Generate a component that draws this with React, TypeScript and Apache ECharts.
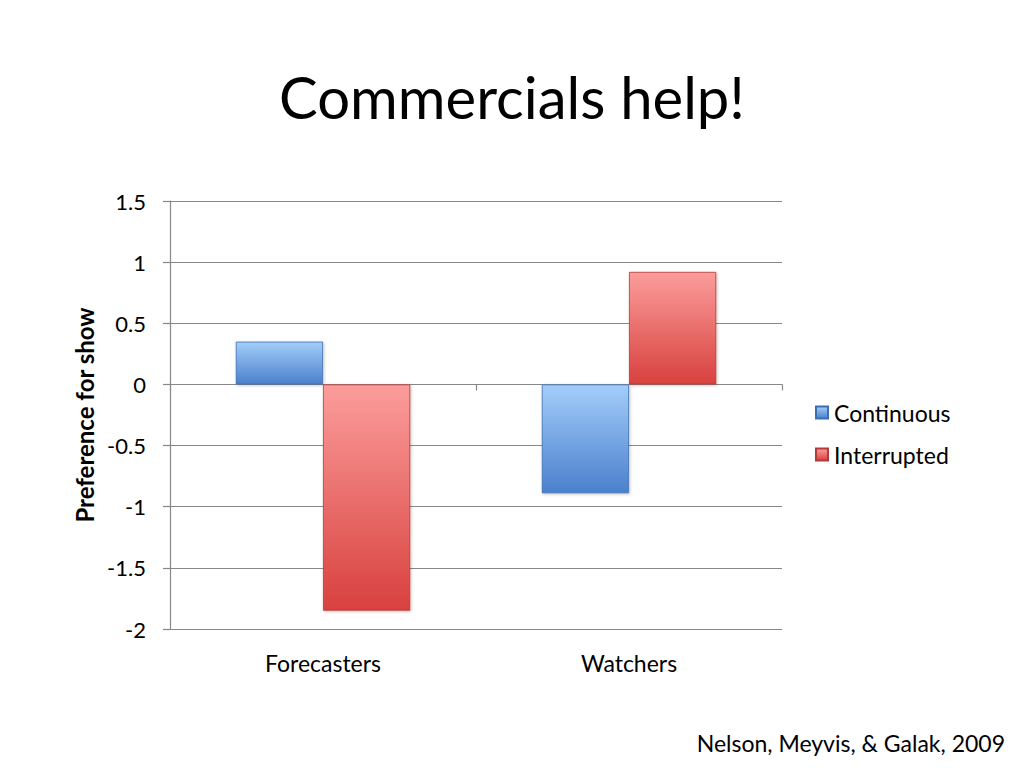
import React, { useEffect, useRef } from "react";
import * as echarts from "echarts";

const categories = ["Forecasters", "Watchers"];
const continuous = [0.35, -0.89];
const interrupted = [-1.85, 0.92];
const seriesNames = ["Continuous", "Interrupted"];
const yMin = -2;
const yMax = 1.5;
const yStep = 0.5;
const titleText = "Commercials help!";
const yAxisName = "Preference for show";
const citation = "Nelson, Meyvis, & Galak, 2009";

const FONT = "Lato, 'Open Sans', sans-serif";

const grad = (top: string, bottom: string) =>
  new echarts.graphic.LinearGradient(0, 0, 0, 1, [
    { offset: 0, color: top },
    { offset: 1, color: bottom },
  ]);

export default function App() {
  const ref = useRef<HTMLDivElement>(null);
  useEffect(() => {
    if (!ref.current) return;
    const chart = echarts.init(ref.current, undefined, { renderer: "svg" });
    chart.setOption({
      animation: false,
      backgroundColor: "#ffffff",
      title: {
        text: titleText,
        left: "center",
        top: 62,
        textStyle: { fontFamily: FONT, fontSize: 58, fontWeight: "normal", color: "#000" },
      },
      legend: {
        orient: "vertical",
        left: 815,
        top: 401,
        padding: 0,
        itemWidth: 12,
        itemHeight: 12,
        itemGap: 19,
        icon: "rect",
        textStyle: { fontFamily: FONT, fontSize: 23, color: "#000", padding: [0, 0, 0, 1] },
        data: seriesNames,
      },
      grid: { left: 170, right: 242, top: 201, bottom: 139, containLabel: false },
      xAxis: [
        {
          type: "category",
          data: categories,
          position: "bottom",
          axisLine: { show: false, onZero: false },
          axisTick: { show: false },
          axisLabel: { fontFamily: FONT, fontSize: 23, color: "#000", margin: 22 },
        },
        {
          type: "category",
          data: categories,
          position: "bottom",
          axisLine: { show: true, onZero: true, lineStyle: { color: "#888", width: 1.2 } },
          axisTick: { show: true, length: 6, lineStyle: { color: "#888", width: 1.2 } },
          axisLabel: { show: false },
          splitLine: { show: false },
        },
      ],
      yAxis: {
        type: "value",
        min: yMin,
        max: yMax,
        interval: yStep,
        name: yAxisName,
        nameLocation: "middle",
        nameGap: 71,
        nameTextStyle: { fontFamily: FONT, fontSize: 24, fontWeight: "bold", color: "#000" },
        axisLine: { show: true, lineStyle: { color: "#888", width: 1.2 } },
        axisTick: { show: true, length: 7, lineStyle: { color: "#888", width: 1.2 } },
        axisLabel: { fontFamily: FONT, fontSize: 22, color: "#000", margin: 24 },
        splitLine: { show: true, lineStyle: { color: "#888", width: 1.2 } },
      },
      series: [
        {
          name: seriesNames[0],
          type: "bar",
          xAxisIndex: 0,
          data: continuous,
          barGap: "0%",
          barCategoryGap: "43%",
          itemStyle: {
            color: grad("#a3cdfa", "#4a80cc"),
            borderColor: "#3d6fb0",
            borderWidth: 0.8,
            shadowColor: "rgba(0,0,0,0.25)",
            shadowBlur: 3,
            shadowOffsetX: 1,
            shadowOffsetY: 1,
          },
        },
        {
          name: seriesNames[1],
          type: "bar",
          xAxisIndex: 0,
          data: interrupted,
          barGap: "0%",
          barCategoryGap: "43%",
          itemStyle: {
            color: grad("#fb9d9b", "#d8413e"),
            borderColor: "#b53a37",
            borderWidth: 0.8,
            shadowColor: "rgba(0,0,0,0.25)",
            shadowBlur: 3,
            shadowOffsetX: 1,
            shadowOffsetY: 1,
          },
        },
      ],
      graphic: [
        {
          type: "text",
          right: 19,
          top: 731,
          style: { text: citation, fontFamily: FONT, fontSize: 23, fill: "#000" },
        },
      ],
    });
    return () => chart.dispose();
  }, []);
  return (
    <div
      ref={ref}
      style={{ position: "absolute", left: 0, top: 0, width: 1024, height: 768 }}
    />
  );
}
